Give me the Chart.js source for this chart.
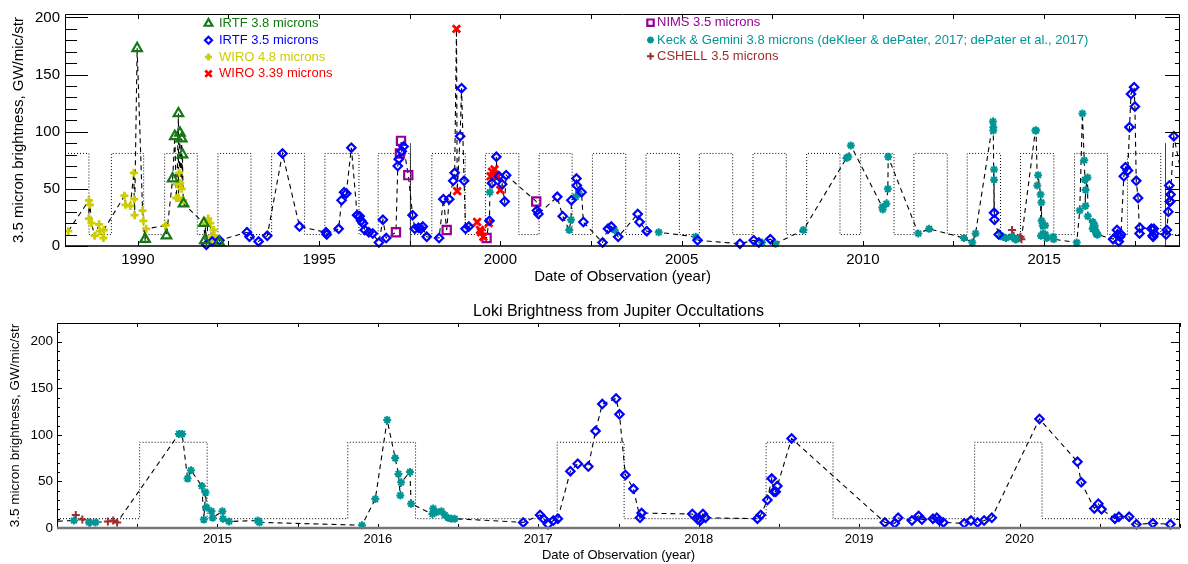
<!DOCTYPE html>
<html>
<head>
<meta charset="utf-8">
<title>Loki Brightness from Jupiter Occultations</title>
<script src="https://cdn.jsdelivr.net/npm/chart.js@4.4.1/dist/chart.umd.min.js"></script>
<style>
  html, body { margin: 0; padding: 0; background: #fff; }
  #wrap { position: relative; width: 1188px; height: 564px; }
  .box { position: absolute; left: 0; width: 1188px; }
  #topBox { top: 0; height: 290px; }
  #botBox { top: 290px; height: 274px; }
</style>
</head>
<body>
<div id="wrap">
  <div class="box" id="topBox"><canvas id="topChart" width="1188" height="290"></canvas></div>
  <div class="box" id="botBox"><canvas id="botChart" width="1188" height="274"></canvas></div>
</div>
<script>
// [year, brightness GW/mic/str]
const IRTF_38 = [[1989.98,173],[1990.20,6],[1990.79,9],[1990.96,59],[1991.02,96],[1991.12,116],[1991.16,99],
  [1991.21,94],[1991.23,80],[1991.26,37],[1991.82,20],[1991.85,5],[1992.25,3]];

const IRTF_35 = [[1991.89,1],[1992.05,4],[1992.25,5],[1993.01,12],[1993.08,8],[1993.33,4],[1993.57,9],[1993.99,81],
  [1994.46,17],[1995.19,12],[1995.21,10],[1995.54,15],[1995.62,40],[1995.69,47],[1995.75,46],[1995.89,86],
  [1996.05,27],[1996.12,26],[1996.16,22],[1996.21,20],[1996.26,14],[1996.37,12],[1996.48,11],[1996.65,3],
  [1996.76,23],[1996.85,7],[1997.17,70],[1997.20,76],[1997.28,83],[1997.33,87],[1997.58,27],[1997.64,15],
  [1997.74,16],[1997.81,15],[1997.86,17],[1997.97,8],[1998.31,7],[1998.43,41],[1998.59,41],[1998.70,57],
  [1998.74,64],[1998.89,96],[1998.93,138],[1999.00,57],[1999.04,15],[1999.13,17],[1999.70,22],[1999.77,55],
  [1999.89,78],[1999.96,61],[2000.05,54],[2000.12,39],[2000.16,62],[2001.01,31],[2001.05,28],[2001.57,43],
  [2001.72,26],[2001.96,40],[2002.10,59],[2002.11,53],[2002.24,47],[2002.29,21],[2002.82,3],[2002.97,15],
  [2003.06,17],[2003.25,8],[2003.79,28],[2003.84,21],[2004.04,13],[2005.44,5],[2006.61,2],[2006.99,5],
  [2007.13,3],[2007.45,6],[2013.62,29],[2013.63,23],[2013.75,10],
  [2016.906,6],[2017.011,14],[2017.032,10],[2017.061,4],[2017.094,8],[2017.122,10],[2017.20,61],[2017.246,69],
  [2017.312,66],[2017.357,104],[2017.399,133],[2017.485,139],[2017.506,122],[2017.543,57],[2017.593,42],
  [2017.634,11],[2017.644,16],[2017.96,15],[2017.995,9],[2018.01,8],[2018.026,15],[2018.042,11],[2018.366,10],
  [2018.387,14],[2018.428,30],[2018.455,53],[2018.469,39],[2018.48,39],[2018.49,45],[2018.579,96],[2019.16,6],
  [2019.222,5],[2019.243,11],[2019.329,8],[2019.371,13],[2019.391,9],[2019.46,10],[2019.484,11],[2019.50,8],
  [2019.525,6],[2019.655,5],[2019.697,8],[2019.738,6],[2019.779,8],[2019.827,11],[2020.124,117],[2020.361,71],
  [2020.384,49],[2020.466,21],[2020.491,26],[2020.511,20],[2020.594,10],[2020.619,12],[2020.683,12],
  [2020.728,4],[2020.831,5],[2020.94,4]];

const WIRO_48 = [[1988.08,13],[1988.65,40],[1988.65,24],[1988.68,36],[1988.72,20],[1988.81,9],[1988.93,19],
  [1988.95,13],[1989.05,7],[1989.06,14],[1989.63,44],[1989.66,36],[1989.79,35],[1989.89,64],[1989.90,41],
  [1989.91,27],[1990.13,31],[1990.15,22],[1990.23,15],[1990.77,18],[1991.06,42],[1991.08,54],[1991.12,42],
  [1991.14,64],[1991.17,55],[1991.21,50],[1991.25,40],[1991.87,20],[1991.94,24],[1992.00,20],[1992.04,4],
  [1992.05,8],[1992.09,14],[1992.11,9]];

const WIRO_339 = [[1998.79,190],[1998.81,48],[1999.36,21],[1999.44,14],[1999.47,12],[1999.53,8],[1999.68,20],
  [1999.73,61],[1999.77,65],[1999.84,67],[1999.88,62],[1999.91,60],[2000.00,49]];

const NIMS_35 = [[1997.12,12],[1997.23,81],[1997.26,92],[1997.46,62],[1998.52,14],[1999.62,7],[2000.99,39]];

const KECK_38 = [[1999.71,47],[2001.90,14],[2001.95,23],[2002.08,43],[2002.17,46],[2003.15,14],[2004.37,12],
  [2005.39,8],[2007.22,3],[2007.59,2],[2008.36,14],[2009.55,77],[2009.60,78],[2009.67,88],[2010.54,34],
  [2010.55,32],[2010.65,37],[2010.69,50],[2010.70,78],[2011.53,11],[2011.83,15],[2012.79,7],[2013.02,3],
  [2013.11,11],[2013.59,109],[2013.60,104],[2013.60,101],[2013.62,67],[2013.62,58],[2013.80,9],[2013.86,8],
  [2013.95,7],
  [2014.106,8],[2014.20,6],[2014.24,6],[2014.76,101],[2014.78,101],[2014.814,53],[2014.835,62],[2014.903,45],
  [2014.915,9],[2014.926,38],[2014.932,22],[2014.963,18],[2014.97,11],[2015.031,18],[2015.035,10],
  [2015.072,7],[2015.251,8],[2015.262,6],[2015.901,3],[2015.984,31],[2016.058,116],[2016.108,75],
  [2016.128,58],[2016.14,35],[2016.145,49],[2016.20,60],[2016.207,26],[2016.34,15],[2016.345,21],
  [2016.365,17],[2016.396,18],[2016.417,14],[2016.437,11],[2016.458,10],[2016.479,10]];

const CSHELL_35 = [[2014.117,14],[2014.158,9],[2014.205,6],[2014.317,7],[2014.35,8],[2014.375,6]];

// dotted brightening windows (start / end years)
const TOP_WIN_START = [1989.27,1990.74,1992.21,1993.69,1995.16,1996.63,1998.11,1999.59,2001.07,2002.54,
  2004.02,2005.49,2006.97,2008.45,2009.94,2011.41,2012.88,2014.35,2015.84,2017.30];
const TOP_WIN_END = [1988.65,1990.16,1991.64,1993.12,1994.60,1996.10,1997.52,1999.03,2000.51,2001.98,
  2003.46,2004.94,2006.41,2007.89,2009.37,2010.86,2012.33,2013.80,2015.27,2016.75,2018.22];
const TOP_WIN_LEVELS = [81, 10];
const BOT_WIN_START = [2014.515,2015.8125,2017.118,2018.42,2019.72];
const BOT_WIN_END = [2014.936,2016.235,2017.535,2018.837,2020.14];
const BOT_WIN_LEVELS = [92, 10];

const TOP_MARK_YEARS = [1997.52, 2018.35];
const TOP_MARK_HEIGHT = 90;

const TOP_X_TICKS = [1990, 1995, 2000, 2005, 2010, 2015];
const BOT_X_TICKS = [2015, 2016, 2017, 2018, 2019, 2020];
const Y_TICKS = [0, 50, 100, 150, 200];

const FONT = '"Liberation Sans", Arial, Helvetica, sans-serif';

const SERIES = [
  {label: 'IRTF 3.8 microns', data: IRTF_38, color: 'rgb(20,120,20)', style: 'triangle', r: 5.5, w: 2.2},
  {label: 'IRTF 3.5 microns', data: IRTF_35, color: 'rgb(0,0,255)', style: 'rectRot', r: 4.2, w: 2.2},
  {label: 'WIRO 4.8 microns', data: WIRO_48, color: 'rgb(205,205,0)', style: 'cross', r: 4, w: 2.8},
  {label: 'WIRO 3.39 microns', data: WIRO_339, color: 'rgb(255,0,0)', style: 'crossRot', r: 5.2, w: 2.8},
  {label: 'NIMS 3.5 microns', data: NIMS_35, color: 'rgb(150,0,150)', style: 'rect', r: 5.8, w: 2.2},
  {label: 'Keck & Gemini 3.8 microns (deKleer & dePater, 2017; dePater et al., 2017)', data: KECK_38,
    color: 'rgb(0,150,150)', style: 'star', r: 4, w: 2},
  {label: 'CSHELL 3.5 microns', data: CSHELL_35, color: 'rgb(160,45,45)', style: 'cross', r: 4, w: 2}
];

function windowLine(starts, ends, levels, xmin, xmax) {
  const [hi, lo] = levels;
  const ev = starts.map(x => ({x, y: hi})).concat(ends.map(x => ({x, y: lo})))
    .sort((a, b) => a.x - b.x).filter(p => p.x > xmin && p.x < xmax);
  const pts = [{x: xmin, y: ev[0].y === hi ? lo : hi}].concat(ev);
  pts.push({x: xmax, y: pts[pts.length - 1].y});
  return pts;
}

function markerSets() {
  return SERIES.map(s => ({
    label: s.label,
    data: s.data.map(([x, y]) => ({x, y})),
    showLine: false,
    pointStyle: s.style,
    pointRadius: s.r,
    pointBorderWidth: s.w,
    pointBorderColor: s.color,
    pointBackgroundColor: 'rgba(0,0,0,0)',
    clip: {left: 0, right: 0, top: 8, bottom: 8},
    order: 1
  }));
}

function chronoLine() {
  const pts = SERIES.flatMap(s => s.data).map(([x, y]) => ({x, y})).sort((a, b) => a.x - b.x);
  return {data: pts, showLine: true, pointRadius: 0, borderColor: '#000', borderWidth: 1.1,
    borderDash: [5, 4], clip: 0, order: 5};
}

function windowSet(pts) {
  return {data: pts, showLine: true, stepped: true, pointRadius: 0, borderColor: '#000',
    borderWidth: 1, borderDash: [1, 2], clip: 0, order: 6};
}

// inward tick marks + frame
const frameTicks = {
  id: 'frameTicks',
  afterDatasetsDraw(chart, args, o) {
    const {ctx, chartArea: a, scales: {x, y}} = chart;
    ctx.save();
    ctx.strokeStyle = '#000';
    ctx.lineWidth = 1;
    const seg = (x1, y1, x2, y2) => { ctx.beginPath(); ctx.moveTo(x1, y1); ctx.lineTo(x2, y2); ctx.stroke(); };
    for (let v = 0; v <= y.max + 1e-6; v += o.yMinor) {
      const py = Math.round(y.getPixelForValue(v)) + 0.5;
      const major = v % o.yMajor === 0;
      seg(a.left, py, a.left + (major ? o.leftMajor : o.leftMinor), py);
      seg(a.right, py, a.right - (major ? o.rightMajor : o.rightMinor), py);
    }
    for (let v = Math.ceil(x.min / o.xStep) * o.xStep; v <= x.max; v += o.xStep) {
      const px = Math.round(x.getPixelForValue(v)) + 0.5;
      seg(px, a.top, px, a.top + o.xTick);
      seg(px, a.bottom, px, a.bottom - o.xTick);
    }
    ctx.beginPath();
    ctx.moveTo(a.left + 0.5, a.bottom);
    ctx.lineTo(a.left + 0.5, a.top + 0.5);
    ctx.lineTo(a.right - 0.5, a.top + 0.5);
    ctx.lineTo(a.right - 0.5, a.bottom);
    ctx.stroke();
    ctx.strokeStyle = o.bottomColor;
    ctx.lineWidth = o.bottomWidth;
    seg(a.left, a.bottom, a.right, a.bottom);
    ctx.restore();
  }
};

const topLegend = {
  id: 'topLegend',
  afterDraw(chart, args, o) {
    const ctx = chart.ctx;
    const drawPoint = Chart.helpers && Chart.helpers.drawPoint;
    ctx.save();
    ctx.font = '13px ' + FONT;
    ctx.textBaseline = 'middle';
    o.items.forEach(it => {
      const s = SERIES[it.series];
      if (drawPoint) {
        ctx.strokeStyle = s.color;
        ctx.fillStyle = 'rgba(0,0,0,0)';
        ctx.lineWidth = s.w;
        drawPoint(ctx, {pointStyle: s.style, radius: it.r, borderWidth: s.w, rotation: 0}, it.mx, it.y);
      }
      ctx.fillStyle = s.color;
      ctx.fillText(s.label, it.tx, it.y);
    });
    ctx.restore();
  }
};

const areaTitle = {
  id: 'areaTitle',
  afterDraw(chart, args, o) {
    const {ctx, chartArea: a} = chart;
    ctx.save();
    ctx.font = o.size + 'px ' + FONT;
    ctx.fillStyle = '#000';
    ctx.textAlign = 'center';
    ctx.textBaseline = 'middle';
    ctx.fillText(o.text, (a.left + a.right) / 2, o.y);
    ctx.restore();
  }
};

function scales(c) {
  return {
    x: {
      type: 'linear', min: c.xMin, max: c.xMax,
      grid: {display: false, drawTicks: false}, border: {display: false},
      afterBuildTicks: s => { s.ticks = c.xTicks.map(v => ({value: v})); },
      afterFit: s => { s.height = c.xHeight; },
      ticks: {padding: c.xPad, color: '#000', autoSkip: false, maxRotation: 0,
        font: {family: FONT, size: c.font}, callback: v => String(v)},
      title: {display: true, text: 'Date of Observation (year)', color: '#000',
        font: {family: FONT, size: c.font}, padding: {top: 0, bottom: c.xTitlePad}}
    },
    y: {
      type: 'linear', min: 0, max: c.yMax,
      grid: {display: false, drawTicks: false}, border: {display: false},
      afterBuildTicks: s => { s.ticks = Y_TICKS.map(v => ({value: v})); },
      afterFit: s => { s.width = c.yWidth; },
      ticks: {padding: c.yPad, color: '#000', font: {family: FONT, size: c.yFont}, callback: v => String(v)},
      title: {display: true, text: '3.5 micron brightness, GW/mic/str', color: '#000',
        font: {family: FONT, size: c.yFont}, padding: {top: c.yTitlePad, bottom: 0}}
    }
  };
}

const TOP_X = [1987.99, 2018.75];
const BOT_X = [2014.0, 2021.0];

new Chart(document.getElementById('topChart'), {
  type: 'scatter',
  data: {
    datasets: markerSets().concat([
      chronoLine(),
      windowSet(windowLine(TOP_WIN_START, TOP_WIN_END, TOP_WIN_LEVELS, TOP_X[0], TOP_X[1]))
    ], TOP_MARK_YEARS.map(x => ({
      data: [{x, y: 0}, {x, y: TOP_MARK_HEIGHT}], showLine: true, pointRadius: 0,
      borderColor: '#444', borderWidth: 1, clip: 0, order: 7
    })))
  },
  options: {
    responsive: false, animation: false, events: [],
    layout: {padding: {top: 14, right: 1, bottom: 0, left: 0}},
    scales: scales({xMin: TOP_X[0], xMax: TOP_X[1], xTicks: TOP_X_TICKS, xHeight: 44, xPad: 5, font: 15,
      xTitlePad: 4, yMax: 203, yWidth: 65, yPad: 5, yFont: 15, yTitlePad: 10}),
    plugins: {
      legend: {display: false}, tooltip: {enabled: false},
      frameTicks: {yMinor: 10, yMajor: 50, leftMajor: 23, leftMinor: 12, rightMajor: 15, rightMinor: 5,
        xStep: 2.5, xTick: 5, bottomColor: '#000', bottomWidth: 1.5},
      topLegend: {items: [
        {series: 0, mx: 208.5, tx: 219, y: 23.5, r: 4.5},
        {series: 1, mx: 208.5, tx: 219, y: 40.3, r: 3.5},
        {series: 2, mx: 208.5, tx: 219, y: 57, r: 3.5},
        {series: 3, mx: 208.5, tx: 219, y: 73.7, r: 4.5},
        {series: 4, mx: 650.5, tx: 657, y: 22.7, r: 4.5},
        {series: 5, mx: 650.5, tx: 657, y: 40, r: 3.5},
        {series: 6, mx: 650.5, tx: 657, y: 56.3, r: 3.5}
      ]}
    }
  },
  plugins: [frameTicks, topLegend]
});

new Chart(document.getElementById('botChart'), {
  type: 'scatter',
  data: {
    datasets: markerSets().concat([
      chronoLine(),
      windowSet(windowLine(BOT_WIN_START, BOT_WIN_END, BOT_WIN_LEVELS, BOT_X[0], BOT_X[1]))
    ])
  },
  options: {
    responsive: false, animation: false, events: [],
    layout: {padding: {top: 33, right: 1, bottom: 0, left: 0}},
    scales: scales({xMin: BOT_X[0], xMax: BOT_X[1], xTicks: BOT_X_TICKS, xHeight: 36, xPad: 4, font: 13,
      xTitlePad: 1, yMax: 220, yWidth: 57, yPad: 4, yFont: 13.5, yTitlePad: 7}),
    plugins: {
      legend: {display: false}, tooltip: {enabled: false},
      frameTicks: {yMinor: 10, yMajor: 50, leftMajor: 5, leftMinor: 3, rightMajor: 9, rightMinor: 4,
        xStep: 0.5, xTick: 4, bottomColor: '#777', bottomWidth: 2.5},
      areaTitle: {text: 'Loki Brightness from Jupiter Occultations', size: 16, y: 21.7}
    }
  },
  plugins: [frameTicks, areaTitle]
});
</script>
</body>
</html>
